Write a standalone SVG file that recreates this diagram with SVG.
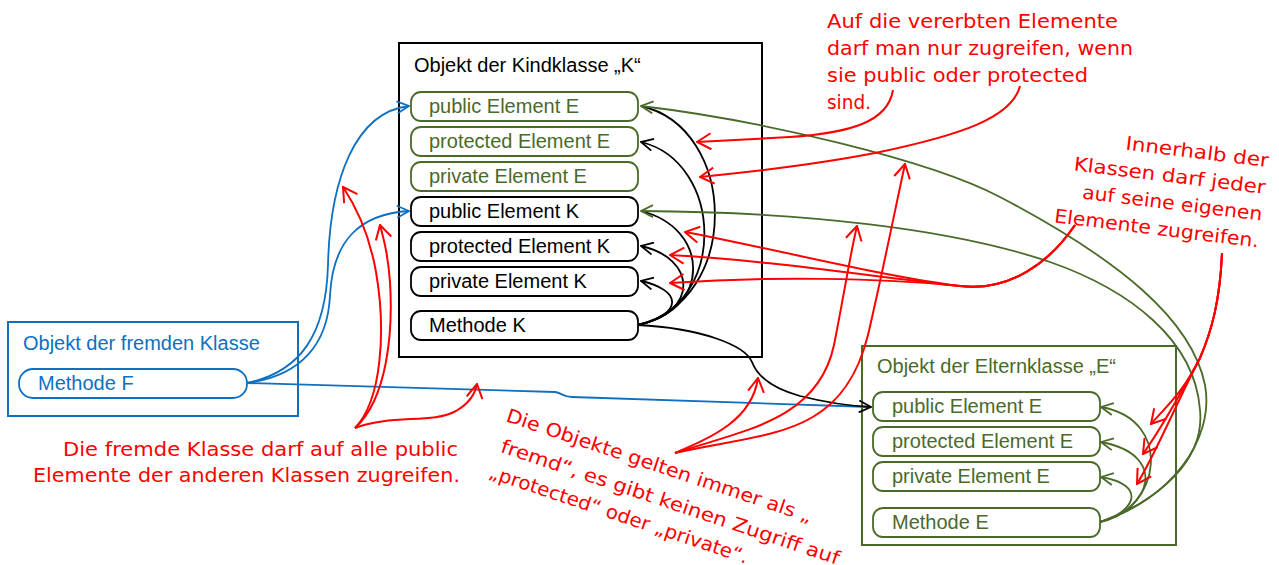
<svg xmlns="http://www.w3.org/2000/svg" width="1279" height="565" viewBox="0 0 1279 565">
<style>
.t{font-family:"Liberation Sans",Arial,sans-serif;font-size:20px}
.tk{fill:#000}.tg{fill:#4a6a2a}.tb{fill:#0e70c0}
.r{font-family:"DejaVu Sans","Liberation Sans",sans-serif;font-size:19px;fill:#ff0000}
.nk{fill:#fff;stroke:#000;stroke-width:1.8}
.ng{fill:#fff;stroke:#4a6a2a;stroke-width:1.8}
.nb{fill:#fff;stroke:#0e70c0;stroke-width:1.8}
.ck{fill:none;stroke:#000;stroke-width:1.8}
.cg{fill:none;stroke:#4a6a2a;stroke-width:1.8}
.cb{fill:none;stroke:#0e70c0;stroke-width:1.8}
.cr{fill:none;stroke:#ff0000;stroke-width:2}
</style>
<defs>
<marker id="ak" viewBox="0 0 14 14" refX="13" refY="7" markerWidth="14" markerHeight="14" markerUnits="userSpaceOnUse" orient="auto"><path d="M1,1 L13,7 L1,13" fill="none" stroke="#000" stroke-width="1.8"/></marker>
<marker id="ag" viewBox="0 0 14 14" refX="13" refY="7" markerWidth="14" markerHeight="14" markerUnits="userSpaceOnUse" orient="auto"><path d="M1,1 L13,7 L1,13" fill="none" stroke="#4a6a2a" stroke-width="1.8"/></marker>
<marker id="ab" viewBox="0 0 14 14" refX="13" refY="7" markerWidth="14" markerHeight="14" markerUnits="userSpaceOnUse" orient="auto"><path d="M1,1 L13,7 L1,13" fill="none" stroke="#0e70c0" stroke-width="1.8"/></marker>
<marker id="ar" viewBox="0 0 16 18" refX="15" refY="9" markerWidth="16" markerHeight="18" markerUnits="userSpaceOnUse" orient="auto"><path d="M1,1 L15,9 L1,17" fill="none" stroke="#ff0000" stroke-width="2"/></marker>
</defs>
<rect x="0" y="0" width="1279" height="565" fill="#fff"/>

<g id="obj-k">
<rect x="399" y="43" width="363" height="314" fill="#fff" stroke="#000" stroke-width="2"/>
<text class="t tk" x="414" y="72">Objekt der Kindklasse „K“</text>
</g>
<g id="obj-f">
<rect x="8" y="322" width="290" height="94" fill="#fff" stroke="#0e70c0" stroke-width="2"/>
<text class="t tb" x="23" y="350">Objekt der fremden Klasse</text>
</g>
<g id="obj-e">
<rect x="862" y="346" width="314" height="199" fill="#fff" stroke="#4a6a2a" stroke-width="2"/>
<text class="t tg" x="877" y="373">Objekt der Elternklasse „E“</text>
</g>

<g id="connectors">
<path class="cb" d="M247,383 C300,372 326,335 328,265 C330,180 355,112 409,106" marker-end="url(#ab)"/>
<path class="cb" d="M247,383 C300,376 328,345 330,295 C333,240 360,214 409,211" marker-end="url(#ab)"/>
<path class="cb" d="M247,383 L555,392 C562,393 563,397 572,397 L870,407"/>
<path class="ck" d="M638,325 C742,300 738,128 641,106"/>
<path class="ck" d="M638,325 C728,305 724,162 641,142" marker-end="url(#ak)"/>
<path class="ck" d="M638,325 C712,310 710,228 641,211"/>
<path class="ck" d="M638,325 C700,312 696,258 641,246" marker-end="url(#ak)"/>
<path class="ck" d="M638,325 C684,314 682,290 641,281" marker-end="url(#ak)"/>
<path class="ck" d="M638,325 C700,328 745,345 752,362 C758,378 775,389 800,396 C828,403 850,406 871,407" marker-end="url(#ak)"/>
<path class="cg" d="M1100,522 C1170,500 1215,440 1205,385 C1192,320 1120,260 1000,197 C930,160 760,120 641,106" marker-end="url(#ag)"/>
<path class="cg" d="M1100,522 C1160,500 1205,460 1200,410 C1195,340 1130,290 1050,262 C950,228 800,212 641,211" marker-end="url(#ag)"/>
<path class="cg" d="M1100,522 C1160,510 1175,420 1101,407" marker-end="url(#ag)"/>
<path class="cg" d="M1100,522 C1150,510 1170,455 1101,442" marker-end="url(#ag)"/>
<path class="cg" d="M1100,522 C1135,512 1148,485 1101,477" marker-end="url(#ag)"/>
<path class="cr" d="M893,90 C888,122 850,133 790,137 L697,142" marker-end="url(#ar)"/>
<path class="cr" d="M1020,86 C1012,118 960,135 880,152 C820,164 760,171 700,177" marker-end="url(#ar)"/>
<path class="cr" d="M1075,225 C1050,262 1010,292 960,286 C880,276 770,248 685,232" marker-end="url(#ar)"/>
<path class="cr" d="M1075,225 C1050,262 1010,292 960,286 C880,278 770,260 670,255" marker-end="url(#ar)"/>
<path class="cr" d="M1075,225 C1050,262 1010,292 960,286 C880,278 770,276 670,283" marker-end="url(#ar)"/>
<path class="cr" d="M675,453 C712,437 752,420 758,378" marker-end="url(#ar)"/>
<path class="cr" d="M675,453 C745,430 818,420 834,345 C844,295 850,255 857,226" marker-end="url(#ar)"/>
<path class="cr" d="M675,453 C765,432 842,440 868,335 C882,275 895,210 905,164" marker-end="url(#ar)"/>
<path class="cr" d="M355,428 C382,400 386,330 376,272 C369,232 355,205 343,187" marker-end="url(#ar)"/>
<path class="cr" d="M355,428 C388,398 393,330 390,282 C388,255 384,240 380,225" marker-end="url(#ar)"/>
<path class="cr" d="M355,428 C392,414 432,424 456,411 C468,404 475,395 477,384" marker-end="url(#ar)"/>
<path class="cr" d="M1222,253 C1220,300 1212,330 1200,358 C1185,390 1165,408 1151,424" marker-end="url(#ar)"/>
<path class="cr" d="M1222,253 C1220,300 1212,330 1200,358 C1180,395 1160,430 1143,454" marker-end="url(#ar)"/>
<path class="cr" d="M1222,253 C1220,300 1212,330 1200,358 C1178,400 1155,455 1137,484" marker-end="url(#ar)"/>
</g>

<g id="k-public-e"><rect class="ng" x="411" y="92" width="227" height="29" rx="10"/><text class="t tg" x="429" y="113">public Element E</text></g>
<g id="k-protected-e"><rect class="ng" x="411" y="127" width="227" height="29" rx="10"/><text class="t tg" x="429" y="148">protected Element E</text></g>
<g id="k-private-e"><rect class="ng" x="411" y="162" width="227" height="29" rx="10"/><text class="t tg" x="429" y="183">private Element E</text></g>
<g id="k-public-k"><rect class="nk" x="411" y="197" width="227" height="29" rx="10"/><text class="t tk" x="429" y="218">public Element K</text></g>
<g id="k-protected-k"><rect class="nk" x="411" y="232" width="227" height="29" rx="10"/><text class="t tk" x="429" y="253">protected Element K</text></g>
<g id="k-private-k"><rect class="nk" x="411" y="267" width="227" height="29" rx="10"/><text class="t tk" x="429" y="288">private Element K</text></g>
<g id="k-methode-k"><rect class="nk" x="411" y="311" width="227" height="29" rx="10"/><text class="t tk" x="429" y="332">Methode K</text></g>

<g id="f-methode-f"><rect class="nb" x="19" y="369" width="228" height="29" rx="14"/><text class="t tb" x="38" y="390">Methode F</text></g>

<g id="e-public-e"><rect class="ng" x="873" y="392" width="227" height="29" rx="10"/><text class="t tg" x="892" y="413">public Element E</text></g>
<g id="e-protected-e"><rect class="ng" x="873" y="427" width="227" height="29" rx="10"/><text class="t tg" x="892" y="448">protected Element E</text></g>
<g id="e-private-e"><rect class="ng" x="873" y="462" width="227" height="29" rx="10"/><text class="t tg" x="892" y="483">private Element E</text></g>
<g id="e-methode-e"><rect class="ng" x="873" y="508" width="227" height="29" rx="10"/><text class="t tg" x="892" y="529">Methode E</text></g>

<g id="note-vererbt">
<text class="r" x="827" y="28" textLength="291" lengthAdjust="spacingAndGlyphs">Auf die vererbten Elemente</text>
<text class="r" x="827" y="55" textLength="306" lengthAdjust="spacingAndGlyphs">darf man nur zugreifen, wenn</text>
<text class="r" x="827" y="82" textLength="261" lengthAdjust="spacingAndGlyphs">sie public oder protected</text>
<text class="r" x="827" y="109" textLength="44" lengthAdjust="spacingAndGlyphs">sind.</text>
</g>
<g id="note-innerhalb" transform="translate(1268,167) rotate(7)">
<text class="r" x="-144" y="0" textLength="144" lengthAdjust="spacingAndGlyphs">Innerhalb der</text>
<text class="r" x="-193" y="27" textLength="193" lengthAdjust="spacingAndGlyphs">Klassen darf jeder</text>
<text class="r" x="-181" y="54" textLength="181" lengthAdjust="spacingAndGlyphs">auf seine eigenen</text>
<text class="r" x="-206" y="81" textLength="206" lengthAdjust="spacingAndGlyphs">Elemente zugreifen.</text>
</g>
<g id="note-fremd" transform="translate(505,421) rotate(18.5)">
<text class="r" x="0" y="0" textLength="321" lengthAdjust="spacingAndGlyphs">Die Objekte gelten immer als „</text>
<text class="r" x="4.5" y="31" textLength="356" lengthAdjust="spacingAndGlyphs">fremd“, es gibt keinen Zugriff auf</text>
<text class="r" x="1.6" y="59" textLength="272" lengthAdjust="spacingAndGlyphs">„protected“ oder „private“.</text>
</g>
<g id="note-public">
<text class="r" x="63" y="456" textLength="395" lengthAdjust="spacingAndGlyphs">Die fremde Klasse darf auf alle public</text>
<text class="r" x="33" y="482" textLength="427" lengthAdjust="spacingAndGlyphs">Elemente der anderen Klassen zugreifen.</text>
</g>
</svg>
